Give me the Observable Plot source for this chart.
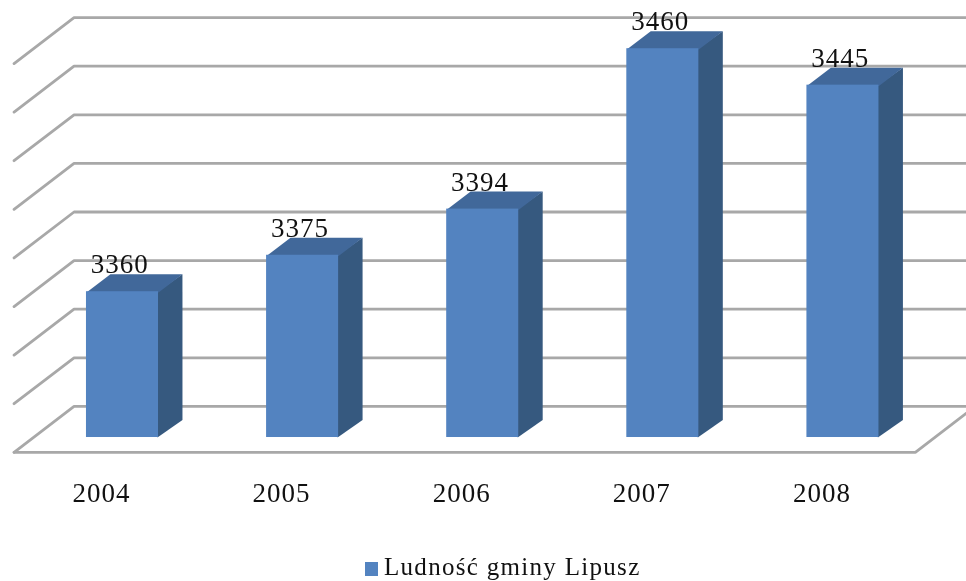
<!DOCTYPE html>
<html lang="pl">
<head>
<meta charset="utf-8">
<title>Ludność gminy Lipusz</title>
<script src="https://cdn.jsdelivr.net/npm/d3@7"></script>
<script src="https://cdn.jsdelivr.net/npm/@observablehq/plot@0.6"></script>
<style>
  html, body { margin: 0; padding: 0; background: #fff; overflow: hidden; width: 966px; height: 581px; }
  #chart svg { display: block; filter: blur(0.45px); }
  #chart svg text { letter-spacing: 1px; }
  #legend { display: flex; align-items: center; height: 36px; padding-left: 365px; filter: blur(0.35px);
            font: 25px/26px "Liberation Serif", serif; color: #111; letter-spacing: 1.3px; white-space: nowrap; }
  #legend i { display: inline-block; width: 13px; height: 14px; background: #5383c0; margin: 0 6px 0 0; position: relative; top: 6px; }
  #legend span { position: relative; top: 4px; }
</style>
</head>
<body>
<div id="chart"></div>
<div id="legend"><i></i><span>Ludność gminy Lipusz</span></div>
<script>
const years = [2004, 2005, 2006, 2007, 2008];
const population = [3360, 3375, 3394, 3460, 3445];
const gridValues = [3300, 3320, 3340, 3360, 3380, 3400, 3420, 3440, 3460];

// Depth of the pseudo-3D box, in data units of each scale
const barHalf = 0.2, barDepthX = 0.133, barDepthY = 7.2;
const wallDepthX = 0.333, wallFront = -6.1, wallBack = 12.8;
const floorLeft = 2003.398, floorRight = 2008.402;
const overlap = 0.006;

const bars = years.map((year, i) => ({year, value: population[i]}));

const gridLines = gridValues.flatMap((v) => [
  {id: v, x: floorLeft, y: v + wallFront},
  {id: v, x: floorLeft + wallDepthX, y: v + wallBack},
  {id: v, x: floorRight + wallDepthX + 0.05, y: v + wallBack}
]);
const floorLine = [
  {x: floorLeft, y: gridValues[0] + wallFront},
  {x: floorRight, y: gridValues[0] + wallFront},
  {x: floorRight + wallDepthX, y: gridValues[0] + wallBack}
];

const base = gridValues[0];
const sideFaces = bars.flatMap((d) => {
  const x0 = d.year + barHalf, x1 = x0 + barDepthX;
  return [
    {id: d.year, x: x0 - overlap, y: base},
    {id: d.year, x: x1, y: base + barDepthY},
    {id: d.year, x: x1, y: d.value + barDepthY},
    {id: d.year, x: x0 - overlap, y: d.value}
  ];
});
const topFaces = bars.flatMap((d) => {
  const x0 = d.year - barHalf, x1 = d.year + barHalf;
  return [
    {id: d.year, x: x0, y: d.value - 0.3},
    {id: d.year, x: x1, y: d.value - 0.3},
    {id: d.year, x: x1 + barDepthX, y: d.value + barDepthY},
    {id: d.year, x: x0 + barDepthX, y: d.value + barDepthY}
  ];
});

const serif = '"Liberation Serif", serif';
const plot = Plot.plot({
  width: 966,
  height: 545,
  marginTop: 0, marginRight: 0, marginBottom: 60, marginLeft: 0,
  style: {background: "#fff", fontFamily: serif, color: "#111"},
  x: {domain: [2003.3227, 2008.686], range: [0, 966], axis: null},
  y: {domain: [3280.25, 3479.84], range: [485, 0], axis: null},
  marks: [
    Plot.line(gridLines, {x: "x", y: "y", z: "id", stroke: "#a8a8a8", strokeWidth: 2.8, strokeLinejoin: "miter"}),
    Plot.line(floorLine, {x: "x", y: "y", stroke: "#a8a8a8", strokeWidth: 2.8, strokeLinejoin: "miter"}),
    Plot.line(sideFaces, {x: "x", y: "y", z: "id", fill: "#36597f", stroke: "none"}),
    Plot.line(topFaces, {x: "x", y: "y", z: "id", fill: "#41689a", stroke: "none"}),
    Plot.rect(bars, {x1: (d) => d.year - barHalf, x2: (d) => d.year + barHalf, y1: base, y2: "value", fill: "#5383c0", inset: 0}),
    Plot.text(bars, {
      x: (d) => d.year - 0.015,
      y: (d) => d.value + barDepthY,
      text: (d) => String(d.value),
      lineAnchor: "bottom",
      textAnchor: "middle",
      fontSize: 27,
      fontFamily: serif,
      fill: "#111",
      dy: -1
    }),
    Plot.axisX({
      ticks: years,
      tickFormat: "d",
      anchor: "bottom",
      tickSize: 0,
      tickPadding: 0,
      dx: -21,
      dy: -3,
      fontSize: 27,
      fontFamily: serif,
      fill: "#111",
      label: null
    })
  ]
});
document.getElementById("chart").append(plot);
</script>
</body>
</html>
